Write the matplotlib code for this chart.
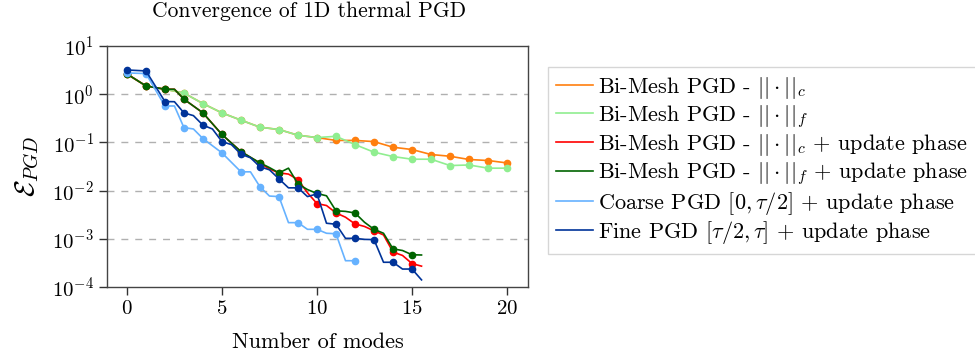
import matplotlib
matplotlib.use('Agg')
import matplotlib.pyplot as plt
import numpy as np

plt.rcParams['font.family'] = 'serif'
plt.rcParams['font.serif'] = ['cmr10', 'DejaVu Serif']
plt.rcParams['mathtext.fontset'] = 'cm'
plt.rcParams['axes.unicode_minus'] = False
plt.rcParams['axes.formatter.use_mathtext'] = True

# DATA

# Bi-Mesh PGD, coarse norm (no update phase)
x_bm_c = [0, 1, 2, 3, 4, 5, 6, 7, 8, 9, 10, 11, 12, 13, 14, 15, 16, 17, 18, 19, 20]
y_bm_c = [2.64, 1.49, 1.27, 1.06, 0.64, 0.41, 0.29, 0.207, 0.185, 0.141, 0.126,
          0.110, 0.110, 0.104, 0.0795, 0.0712, 0.0561, 0.0516, 0.0442, 0.0421, 0.0375]

# Bi-Mesh PGD, fine norm (no update phase)
x_bm_f = [0, 1, 2, 3, 4, 5, 6, 7, 8, 9, 10, 11, 12, 13, 14, 15, 16, 17, 18, 19, 20]
y_bm_f = [2.64, 1.49, 1.27, 1.06, 0.64, 0.41, 0.29, 0.207, 0.185, 0.141, 0.126,
          0.134, 0.0902, 0.0627, 0.0509, 0.0448, 0.0448, 0.0331, 0.034, 0.0292, 0.0292]

# Bi-Mesh PGD, coarse norm + update phase (half steps = update phase)
x_bm_c_up = [0, 1, 2, 2.5, 3, 4, 5, 6, 7, 7.5, 8, 8.5, 9, 9.5, 10, 10.5, 11, 11.5,
             12, 12.5, 13, 13.5, 14, 14.5, 15, 15.5]
y_bm_c_up = [2.64, 1.49, 1.27, 1.27, 0.79, 0.41, 0.146, 0.0645, 0.037, 0.028, 0.0233,
             0.022, 0.0169, 0.009, 0.00537, 0.0049, 0.00344, 0.0028, 0.00203, 0.0018,
             0.00146, 0.0012, 0.00053, 0.00045, 0.000305, 0.00027]

# Bi-Mesh PGD, fine norm + update phase
x_bm_f_up = [0, 1, 2, 2.5, 3, 4, 5, 6, 7, 7.5, 8, 8.5, 9, 9.5, 10, 10.5, 11, 11.5,
             12, 12.5, 13, 13.5, 14, 14.5, 15, 15.5]
y_bm_f_up = [2.64, 1.49, 1.27, 1.27, 0.79, 0.41, 0.146, 0.0645, 0.0376, 0.03, 0.0233,
             0.0292, 0.0137, 0.0105, 0.0087, 0.0078, 0.0038, 0.0037, 0.00343, 0.0022,
             0.00157, 0.0013, 0.000616, 0.00057, 0.000465, 0.00046]

# Coarse PGD on [0, tau/2] + update phase
x_coarse = [0, 1, 2, 2.5, 3, 3.5, 4, 5, 6, 6.5, 7, 7.5, 8, 8.5, 9, 9.5, 10, 10.5,
            11, 11.5, 12]
y_coarse = [2.77, 2.69, 0.571, 0.571, 0.203, 0.19, 0.12, 0.0607, 0.0245, 0.0245,
            0.012, 0.0077, 0.0075, 0.00216, 0.00216, 0.00157, 0.00157, 0.0013,
            0.00127, 0.00035, 0.00035]

# Fine PGD on [tau/2, tau] + update phase
x_fine = [0, 1, 2, 2.5, 3, 3.5, 4, 4.5, 5, 5.5, 6, 6.5, 7, 7.5, 8, 8.5, 9, 9.5, 10,
          10.5, 11, 11.5, 12, 12.5, 13, 13.5, 14, 14.5, 15, 15.5]
y_fine = [3.19, 3.05, 0.706, 0.70, 0.41, 0.36, 0.228, 0.19, 0.104, 0.09, 0.0569,
          0.048, 0.0312, 0.027, 0.0175, 0.0114, 0.0114, 0.0075, 0.00853, 0.0021,
          0.0020, 0.00102, 0.00102, 0.00097, 0.00096, 0.000325, 0.000325, 0.000235,
          0.000235, 0.00014]

series = [
    (x_bm_c, y_bm_c, '#ff7f0e', r'Bi-Mesh PGD - $||\cdot||_c$'),
    (x_bm_f, y_bm_f, '#90ee90', r'Bi-Mesh PGD - $||\cdot||_f$'),
    (x_bm_c_up, y_bm_c_up, '#ff0000', r'Bi-Mesh PGD - $||\cdot||_c$ + update phase'),
    (x_bm_f_up, y_bm_f_up, '#006400', r'Bi-Mesh PGD - $||\cdot||_f$ + update phase'),
    (x_coarse, y_coarse, '#66b2ff', r'Coarse PGD $[0,\tau/2]$ + update phase'),
    (x_fine, y_fine, '#003399', r'Fine PGD $[\tau/2,\tau]$ + update phase'),
]

fig = plt.figure(figsize=(9.75, 3.6), dpi=100)
ax = fig.add_axes([0.1097, 0.203, 0.4318, 0.669])

for xs, ys, col, lab in series:
    # markers only on whole modes, half steps are the update phase
    marks = [i for i, v in enumerate(xs) if float(v).is_integer()]
    ax.plot(xs, ys, color=col, lw=1.2, marker='o', markersize=4.5,
            markevery=marks, label=lab)

ax.set_yscale('log')
ax.set_ylim(1e-4, 1e1)
ax.set_xlim(-1.05, 21.1)
ax.set_xticks([0, 5, 10, 15, 20])
ax.minorticks_off()
ax.set_yticks([1e-4, 1e-3, 1e-2, 1e-1, 1e0, 1e1])

for v in [1e-3, 1e-2, 1e-1, 1e0]:
    ax.axhline(v, color='#b0b0b0', lw=1, ls=(0, (5, 5)), zorder=0)

ax.tick_params(direction='out', length=6, width=1, labelsize=15, colors='#333333',
               labelcolor='black')
for sp in ax.spines.values():
    sp.set_color('#444444')
    sp.set_linewidth(1)

ax.set_title('Convergence of 1D thermal PGD', fontsize=15.5, pad=21, x=0.48)
ax.set_xlabel('Number of modes', fontsize=16, labelpad=10)
ax.set_ylabel(r'$\mathcal{E}_{PGD}$', fontsize=20, labelpad=8)

leg = ax.legend(loc='upper left', bbox_to_anchor=(1.0475, 0.913), fontsize=16,
                frameon=True, fancybox=False, edgecolor='#cccccc',
                handlelength=1.66, handletextpad=0.25, labelspacing=0.1,
                borderpad=0.35, borderaxespad=0)
for h in leg.legend_handles:
    h.set_marker('')

plt.savefig('out.png', dpi=100)
